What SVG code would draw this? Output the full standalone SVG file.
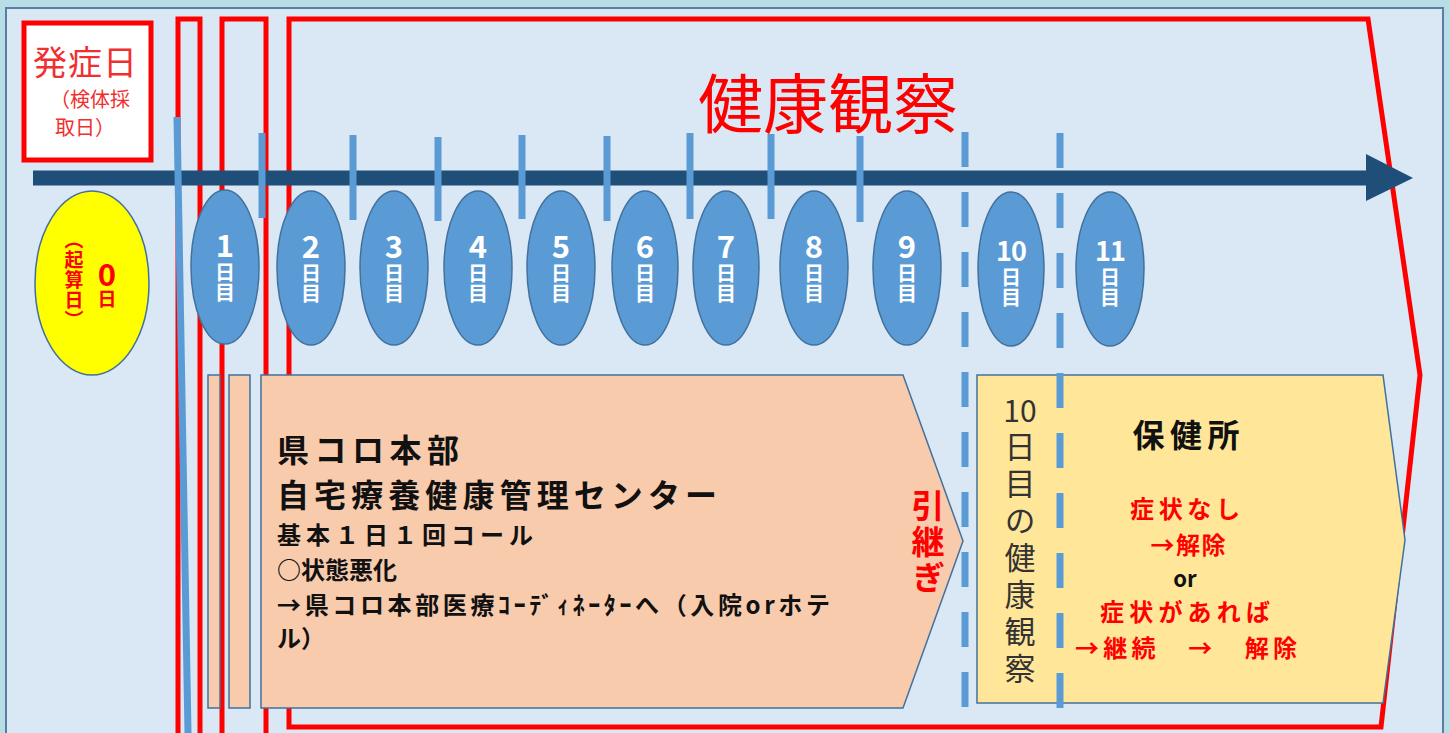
<svg xmlns="http://www.w3.org/2000/svg" width="1450" height="733" viewBox="0 0 1450 733">
<style>
.cjk{font-family:"Noto Sans CJK JP","Noto Sans",sans-serif}
.day{fill:#5b9bd5;stroke:#41719c;stroke-width:1.5}
.dnum{font-family:"Noto Sans CJK JP","Noto Sans",sans-serif;font-weight:bold;fill:#fff;text-anchor:middle}
.dv{font-family:"Noto Sans CJK JP","Noto Sans",sans-serif;font-weight:bold;fill:#fff;font-size:20px;text-anchor:start;writing-mode:vertical-rl;text-orientation:upright}
.vt{writing-mode:vertical-rl;text-orientation:upright}
.tick{stroke:#5b9bd5;stroke-width:7}
.dash{stroke:#5b9bd5;stroke-width:7;stroke-dasharray:35 25}
.red{fill:#ff0000}
.blk{fill:#111}
</style>
<rect x="0" y="0" width="1450" height="733" fill="#b9dde6"/>
<rect x="6" y="8" width="1437" height="730" fill="#dae7f4" stroke="#5a7da2" stroke-width="2"/>

<g id="onset">
<rect x="24" y="23" width="127" height="137" fill="#fff" stroke="#ff0000" stroke-width="5"/>
<text class="cjk" x="33" y="75" font-size="34" letter-spacing="1" fill="#f03030">発症日</text>
<text class="cjk" x="50" y="107" font-size="20" fill="#f03030">（検体採</text>
<text class="cjk" x="55" y="135" font-size="20" fill="#f03030">取日）</text>
</g>

<g id="frames" fill="none" stroke="#ff0000" stroke-width="5">
<rect x="178" y="19" width="22" height="730"/>
<rect x="222" y="19" width="44" height="730"/>
<path d="M289,19 L1368,19 L1420,375 L1381,727 L289,727 Z"/>
</g>

<g id="title">
<text class="cjk" x="698" y="128" font-size="65" fill="#ff0000">健康観察</text>
</g>

<g id="connectors">
<line x1="33" y1="178" x2="1372" y2="178" stroke="#1f4e79" stroke-width="15"/>
<polygon points="1366,154 1413,178 1366,201" fill="#1f4e79"/>
<line class="tick" x1="177" y1="117" x2="188" y2="733" stroke-width="6"/>
<line class="tick" x1="262" y1="133" x2="262" y2="218"/>
<line class="tick" x1="353" y1="135" x2="353" y2="220"/>
<line class="tick" x1="438" y1="137" x2="438" y2="221"/>
<line class="tick" x1="522" y1="135" x2="522" y2="219"/>
<line class="tick" x1="607" y1="136" x2="607" y2="221"/>
<line class="tick" x1="690" y1="133" x2="690" y2="219"/>
<line class="tick" x1="771" y1="134" x2="771" y2="219"/>
<line class="tick" x1="860" y1="136" x2="860" y2="222"/>
</g>

<g id="day0">
<ellipse cx="92" cy="283" rx="57" ry="92" fill="#ffff00" stroke="#41719c" stroke-width="1.5"/>
<g class="cjk" font-weight="bold" fill="#ff0000" text-anchor="start">
<text class="vt" x="74" y="230" font-size="19" letter-spacing="1">（起算日）</text>
<text x="107" y="286" font-size="31" text-anchor="middle">0</text>
<text class="vt" x="107" y="289" font-size="19">日</text>
</g>
</g>

<g id="days">
<ellipse class="day" cx="225" cy="267" rx="34" ry="77"/>
<text class="dnum" x="225" y="257" font-size="31">1</text><text class="dv" x="225" y="262">日目</text>
<ellipse class="day" cx="311" cy="268" rx="34" ry="77"/>
<text class="dnum" x="311" y="258" font-size="31">2</text><text class="dv" x="311" y="263">日目</text>
<ellipse class="day" cx="394" cy="268" rx="34" ry="77"/>
<text class="dnum" x="394" y="258" font-size="31">3</text><text class="dv" x="394" y="263">日目</text>
<ellipse class="day" cx="478" cy="268" rx="34" ry="77"/>
<text class="dnum" x="478" y="258" font-size="31">4</text><text class="dv" x="478" y="263">日目</text>
<ellipse class="day" cx="561" cy="268" rx="34" ry="77"/>
<text class="dnum" x="561" y="258" font-size="31">5</text><text class="dv" x="561" y="263">日目</text>
<ellipse class="day" cx="645" cy="268" rx="33" ry="77"/>
<text class="dnum" x="645" y="258" font-size="31">6</text><text class="dv" x="645" y="263">日目</text>
<ellipse class="day" cx="726" cy="268" rx="33" ry="77"/>
<text class="dnum" x="726" y="258" font-size="31">7</text><text class="dv" x="726" y="263">日目</text>
<ellipse class="day" cx="814" cy="268" rx="34" ry="77"/>
<text class="dnum" x="814" y="258" font-size="31">8</text><text class="dv" x="814" y="263">日目</text>
<ellipse class="day" cx="907" cy="268" rx="34" ry="77"/>
<text class="dnum" x="907" y="258" font-size="31">9</text><text class="dv" x="907" y="263">日目</text>
<ellipse class="day" cx="1011" cy="269" rx="33" ry="77"/>
<text class="dnum" x="1011" y="261" font-size="27" letter-spacing="-1">10</text><text class="dv" x="1011" y="267">日目</text>
<ellipse class="day" cx="1110" cy="269" rx="34" ry="77"/>
<text class="dnum" x="1110" y="261" font-size="27" letter-spacing="-1">11</text><text class="dv" x="1110" y="267">日目</text>
</g>

<g id="center">
<rect x="208" y="375" width="12" height="333" fill="#f8cbad" stroke="#41719c" stroke-width="1.5"/>
<rect x="229" y="375" width="21" height="333" fill="#f8cbad" stroke="#41719c" stroke-width="1.5"/>
<path d="M261,375 L903,375 L963,541 L903,708 L261,708 Z" fill="#f8cbad" stroke="#41719c" stroke-width="1.5"/>
<g class="cjk blk" font-weight="bold">
<text x="277" y="462" font-size="32" textLength="182" lengthAdjust="spacing">県コロ本部</text>
<text x="277" y="507" font-size="32" textLength="440" lengthAdjust="spacing">自宅療養健康管理センター</text>
<text x="277" y="544" font-size="24" textLength="256" lengthAdjust="spacing">基本１日１回コール</text>
<text x="277" y="579" font-size="24">○状態悪化</text>
<text x="277" y="614" font-size="24" textLength="553" lengthAdjust="spacing">→県コロ本部医療ｺｰﾃﾞｨﾈｰﾀｰへ（入院orホテ</text>
<text x="277" y="647" font-size="24">ル）</text>
</g>
<text class="cjk red vt" x="928" y="489" font-size="33" font-weight="bold" letter-spacing="3">引継ぎ</text>
</g>

<g id="hokenjo">
<path d="M977,375 L1383,375 L1405,540 L1383,703 L977,703 Z" fill="#ffe699" stroke="#41719c" stroke-width="1.5"/>
<text class="cjk" x="1020" y="422" font-size="30" fill="#333" text-anchor="middle">10</text>
<text class="cjk vt" x="1020" y="431" font-size="31" fill="#333" letter-spacing="6">日目の健康観察</text>
<g class="cjk" font-weight="bold" text-anchor="middle">
<text class="blk" x="1186" y="447" font-size="32" textLength="107" lengthAdjust="spacing">保健所</text>
<text class="red" x="1185" y="518" font-size="24" textLength="110" lengthAdjust="spacing">症状なし</text>
<text class="red" x="1188" y="554" font-size="24" textLength="75" lengthAdjust="spacing">→解除</text>
<text class="blk" x="1185" y="587" font-size="22">or</text>
<text class="red" x="1185" y="621" font-size="24" textLength="170" lengthAdjust="spacing">症状があれば</text>
<text class="red" x="1186" y="657" font-size="24" textLength="222" lengthAdjust="spacing" xml:space="preserve">→継続　→　解除</text>
</g>
</g>

<g id="dashes">
<line class="dash" x1="965" y1="132" x2="965" y2="712"/>
<line class="dash" x1="1060" y1="133" x2="1060" y2="712"/>
</g>
</svg>
